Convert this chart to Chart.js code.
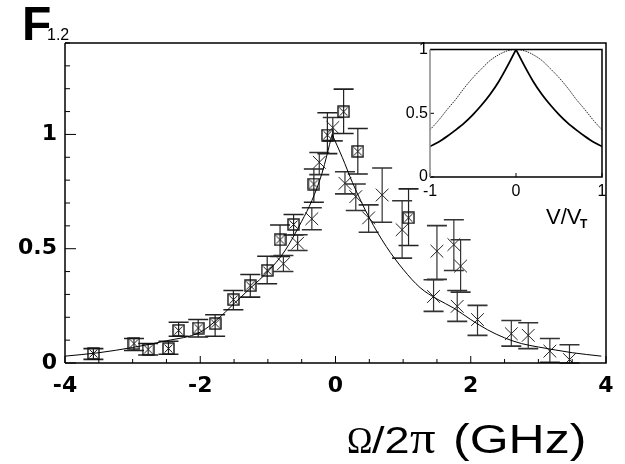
<!DOCTYPE html>
<html>
<head>
<meta charset="utf-8">
<script src="https://cdn.jsdelivr.net/npm/chart.js@4.4.1/dist/chart.umd.min.js"></script>
<style>
html, body { margin: 0; padding: 0; background: #fff; }
#wrap { position: relative; width: 625px; height: 464px; }
#mainChart { position: absolute; left: 0; top: 0; }
#insetChart { position: absolute; left: 380px; top: 38px; }
</style>
</head>
<body>
<div id="wrap">
  <canvas id="mainChart" width="625" height="464"></canvas>
  <canvas id="insetChart" width="240" height="200"></canvas>
</div>
<script>
// boxed points (square with x inside)
var squareX  = [-3.58, -2.98, -2.77, -2.47, -2.32, -2.03, -1.78, -1.51, -1.26, -1.01, -0.82, -0.62, -0.32, -0.12, 0.12, 0.33, 1.08];
var squareY  = [0.042, 0.085, 0.06, 0.063, 0.143, 0.153, 0.172, 0.277, 0.338, 0.405, 0.539, 0.606, 0.783, 0.997, 1.099, 0.926, 0.635];
var squareLo = [0.016, 0.055, 0.035, 0.038, 0.117, 0.114, 0.117, 0.233, 0.288, 0.347, 0.466, 0.56, 0.703, 0.916, 1.004, 0.827, 0.514];
var squareHi = [0.063, 0.107, 0.085, 0.095, 0.178, 0.19, 0.211, 0.317, 0.387, 0.467, 0.604, 0.65, 0.849, 1.095, 1.198, 1.026, 0.762];

// cross points
var crossX  = [-0.77, -0.56, -0.35, -0.24, -0.04, 0.14, 0.30, 0.49, 0.69, 0.985, 1.45, 1.50, 1.75, 1.80, 1.85, 2.10, 2.60, 2.85, 3.17, 3.46];
var crossY  = [0.434, 0.524, 0.631, 0.878, 1.03, 0.786, 0.728, 0.635, 0.735, 0.583, 0.291, 0.489, 0.518, 0.248, 0.424, 0.19, 0.128, 0.121, 0.052, 0.015];
var crossLo = [0.40, 0.492, 0.583, 0.824, 0.972, 0.74, 0.667, 0.572, 0.616, 0.459, 0.226, 0.366, 0.405, 0.182, 0.31, 0.121, 0.074, 0.063, 0.003, 0.0];
var crossHi = [0.47, 0.561, 0.679, 0.921, 1.074, 0.837, 0.783, 0.692, 0.853, 0.71, 0.364, 0.601, 0.627, 0.317, 0.539, 0.252, 0.186, 0.176, 0.107, 0.08];

// fitted curve (two branches meeting at the cusp)
var fitLeftX  = [-4, -3.5, -3, -2.5, -2, -1.75, -1.5, -1.25, -1, -0.75, -0.5, -0.35, -0.2, -0.05];
var fitLeftY  = [0.03, 0.045, 0.068, 0.097, 0.135, 0.19, 0.26, 0.33, 0.40, 0.49, 0.62, 0.71, 0.83, 1.0];
var fitRightX = [-0.05, 0.1, 0.25, 0.5, 0.75, 1, 1.25, 1.5, 1.75, 2, 2.25, 2.5, 2.75, 3, 3.25, 3.5, 3.93];
var fitRightY = [1.0, 0.9, 0.79, 0.635, 0.51, 0.41, 0.33, 0.28, 0.24, 0.19, 0.145, 0.11, 0.085, 0.07, 0.057, 0.045, 0.03];

// inset curves
var insetV     = [-1, -0.9, -0.8, -0.7, -0.6, -0.5, -0.4, -0.3, -0.2, -0.1, 0, 0.1, 0.2, 0.3, 0.4, 0.5, 0.6, 0.7, 0.8, 0.9, 1];
var insetGauss = [0.37, 0.445, 0.53, 0.61, 0.70, 0.78, 0.85, 0.915, 0.96, 0.99, 1, 0.99, 0.96, 0.915, 0.85, 0.78, 0.70, 0.61, 0.53, 0.445, 0.37];
var insetCusp  = [0.24, 0.275, 0.32, 0.37, 0.425, 0.49, 0.565, 0.65, 0.75, 0.87, 1, 0.87, 0.75, 0.65, 0.565, 0.49, 0.425, 0.37, 0.32, 0.275, 0.24];

var xTickLabels = ['-4', '-2', '0', '2', '4'];
var yTickLabels = ['0', '0.5', '1'];

function toPoints(xs, ys) {
    var pts = [];
    for (var i = 0; i < xs.length; i++) pts.push({ x: xs[i], y: ys[i] });
    return pts;
}

function near(v, step) {
    var r = Math.round(v / step) * step;
    return Math.abs(v - r) < 1e-6;
}

function makeBoxCross(size) {
    var c = document.createElement('canvas');
    c.width = size;
    c.height = size;
    var g = c.getContext('2d');
    g.strokeStyle = '#111';
    g.lineWidth = 1.4;
    g.strokeRect(1, 1, size - 2, size - 2);
    g.lineWidth = 1;
    g.beginPath();
    g.moveTo(2.5, 2.5); g.lineTo(size - 2.5, size - 2.5);
    g.moveTo(size - 2.5, 2.5); g.lineTo(2.5, size - 2.5);
    g.stroke();
    return c;
}

var errorBars = {
    id: 'errorBars',
    beforeDatasetsDraw: function(chart) {
        var ctx = chart.ctx;
        var xs = chart.scales.x, ys = chart.scales.y;
        chart.data.datasets.forEach(function(ds) {
            if (!ds.errLo) return;
            ctx.save();
            ctx.strokeStyle = ds.errColor || '#222';
            for (var i = 0; i < ds.data.length; i++) {
                var px = xs.getPixelForValue(ds.data[i].x);
                var lo = ys.getPixelForValue(ds.errLo[i]);
                var hi = ys.getPixelForValue(ds.errHi[i]);
                ctx.lineWidth = 1.2;
                ctx.beginPath();
                ctx.moveTo(px, lo); ctx.lineTo(px, hi);
                ctx.stroke();
                ctx.lineWidth = 1.6;
                ctx.beginPath();
                ctx.moveTo(px - 10, lo); ctx.lineTo(px + 10, lo);
                ctx.moveTo(px - 10, hi); ctx.lineTo(px + 10, hi);
                ctx.stroke();
            }
            ctx.restore();
        });
    }
};

function makeFrame(opt) {
    return {
        id: 'frame',
        beforeDraw: function(chart) {
            if (!opt.fill) return;
            var a = chart.chartArea, ctx = chart.ctx;
            ctx.save();
            ctx.fillStyle = '#fff';
            ctx.fillRect(a.left, a.top, a.right - a.left, a.bottom - a.top);
            ctx.restore();
        },
        afterDatasetsDraw: function(chart) {
            var a = chart.chartArea, ctx = chart.ctx;
            ctx.save();
            ctx.strokeStyle = '#000';
            ctx.lineWidth = 1;
            ctx.beginPath();
            chart.scales.y.ticks.forEach(function(t) {
                var py = chart.scales.y.getPixelForValue(t.value);
                var len = near(t.value, opt.yMajor) ? opt.yMajorLen : opt.yMinorLen;
                ctx.moveTo(a.left, py); ctx.lineTo(a.left + len, py);
            });
            chart.scales.x.ticks.forEach(function(t) {
                var px = chart.scales.x.getPixelForValue(t.value);
                var len = near(t.value, opt.xMajor) ? opt.xMajorLen : opt.xMinorLen;
                ctx.moveTo(px, a.bottom); ctx.lineTo(px, a.bottom - len);
            });
            ctx.stroke();
            ctx.lineWidth = 1.5;
            ctx.beginPath();
            ctx.moveTo(a.left, a.top); ctx.lineTo(a.right, a.top);
            ctx.lineTo(a.right, a.bottom); ctx.lineTo(a.left, a.bottom);
            ctx.stroke();
            ctx.strokeStyle = opt.leftColor || '#000';
            ctx.beginPath();
            ctx.moveTo(a.left, a.bottom); ctx.lineTo(a.left, a.top);
            ctx.stroke();
            ctx.restore();
        }
    };
}

var mainText = {
    id: 'mainText',
    afterDraw: function(chart) {
        var ctx = chart.ctx;
        ctx.save();
        ctx.fillStyle = '#000';
        ctx.textAlign = 'left';
        ctx.textBaseline = 'alphabetic';
        ctx.font = 'bold 48px "Liberation Sans", Arial, sans-serif';
        ctx.fillText('F', 22, 40);
        ctx.font = '16px "Liberation Sans", Arial, sans-serif';
        ctx.fillText('1.2', 47, 40);

        // x axis title
        piece(ctx, '\u03A9', '38px "Liberation Serif", serif', 347, 453, 0.9);
        piece(ctx, '/2', '36px "Liberation Sans", Arial, sans-serif', 372, 453, 1.25);
        piece(ctx, '\u03C0', '46px "Liberation Serif", serif', 410, 453, 1.1);
        piece(ctx, '(GHz)', '40px "Liberation Sans", Arial, sans-serif', 453, 453, 1.25);

        // inset axis title
        ctx.font = '22px "Liberation Sans", Arial, sans-serif';
        ctx.fillText('V/V', 546, 224);
        ctx.font = 'bold 12px "Liberation Sans", Arial, sans-serif';
        ctx.fillText('T', 580, 228);
        ctx.restore();
    }
};

function piece(ctx, text, font, x, y, sx) {
    ctx.save();
    ctx.font = font;
    ctx.translate(x, y);
    ctx.scale(sx, 1);
    ctx.fillText(text, 0, 0);
    ctx.restore();
}

var boxCross = makeBoxCross(13);

new Chart(document.getElementById('mainChart'), {
    type: 'scatter',
    data: {
        datasets: [
            { data: toPoints(fitLeftX, fitLeftY), showLine: true, pointRadius: 0, borderColor: '#000', borderWidth: 1, cubicInterpolationMode: 'monotone' },
            { data: toPoints(fitRightX, fitRightY), showLine: true, pointRadius: 0, borderColor: '#000', borderWidth: 1, cubicInterpolationMode: 'monotone' },
            { data: toPoints(squareX, squareY), errLo: squareLo, errHi: squareHi, errColor: '#222', pointStyle: boxCross, pointRadius: 7 },
            { data: toPoints(crossX, crossY), errLo: crossLo, errHi: crossHi, errColor: '#333', pointStyle: 'crossRot', pointRadius: 9, borderColor: '#222', borderWidth: 1 }
        ]
    },
    options: {
        responsive: false,
        animation: false,
        events: [],
        layout: { padding: { top: 43, right: 19, left: 0, bottom: 0 } },
        plugins: { legend: { display: false }, tooltip: { enabled: false } },
        scales: {
            x: {
                type: 'linear', min: -4, max: 4,
                grid: { display: false, drawTicks: false },
                border: { display: false },
                afterFit: function(s) { s.height = 101; },
                ticks: {
                    stepSize: 0.5, autoSkip: false, maxRotation: 0, padding: 10,
                    color: '#000',
                    font: { family: '"DejaVu Sans", sans-serif', size: 22, weight: 'bold' },
                    callback: function(v) {
                        var r = Math.round(v);
                        if (near(v, 2)) return xTickLabels[(r + 4) / 2];
                        return '';
                    }
                }
            },
            y: {
                type: 'linear', min: 0, max: 1.4,
                grid: { display: false, drawTicks: false },
                border: { display: false },
                afterFit: function(s) { s.width = 65; },
                ticks: {
                    stepSize: 0.1, autoSkip: false, padding: 8,
                    color: '#000',
                    font: { family: '"DejaVu Sans", sans-serif', size: 22, weight: 'bold' },
                    callback: function(v) {
                        if (near(v, 0.5)) return yTickLabels[Math.round(v * 2)];
                        return '';
                    }
                }
            }
        }
    },
    plugins: [errorBars, makeFrame({ yMajor: 0.5, yMajorLen: 11, yMinorLen: 5, xMajor: 2, xMajorLen: 7, xMinorLen: 4 }), mainText]
});

var insetLeft = insetV.slice(0, 11), insetRight = insetV.slice(10);

new Chart(document.getElementById('insetChart'), {
    type: 'scatter',
    data: {
        datasets: [
            { data: toPoints(insetV, insetGauss), showLine: true, pointRadius: 0, borderColor: '#222', borderWidth: 1, borderDash: [1.5, 1], cubicInterpolationMode: 'monotone' },
            { data: toPoints(insetLeft, insetCusp.slice(0, 11)), showLine: true, pointRadius: 0, borderColor: '#000', borderWidth: 1.8, cubicInterpolationMode: 'monotone' },
            { data: toPoints(insetRight, insetCusp.slice(10)), showLine: true, pointRadius: 0, borderColor: '#000', borderWidth: 1.8, cubicInterpolationMode: 'monotone' }
        ]
    },
    options: {
        responsive: false,
        animation: false,
        events: [],
        layout: { padding: { top: 10, right: 18, left: 0, bottom: 0 } },
        plugins: { legend: { display: false }, tooltip: { enabled: false } },
        scales: {
            x: {
                type: 'linear', min: -1, max: 1,
                grid: { display: false, drawTicks: false },
                border: { display: false },
                afterFit: function(s) { s.height = 61; },
                ticks: {
                    stepSize: 1, autoSkip: false, maxRotation: 0, padding: 5,
                    color: '#000',
                    font: { family: '"Liberation Sans", Arial, sans-serif', size: 16 },
                    callback: function(v) { return String(Math.round(v)); }
                }
            },
            y: {
                type: 'linear', min: 0, max: 1,
                grid: { display: false, drawTicks: false },
                border: { display: false },
                afterFit: function(s) { s.width = 50; },
                ticks: {
                    stepSize: 0.5, autoSkip: false, padding: 2,
                    color: '#000',
                    font: { family: '"Liberation Sans", Arial, sans-serif', size: 16 },
                    callback: function(v) { return yTickLabels[Math.round(v * 2)]; }
                }
            }
        }
    },
    plugins: [makeFrame({ fill: true, yMajor: 0.5, yMajorLen: 4, yMinorLen: 4, xMajor: 1, xMajorLen: 4, xMinorLen: 4, leftColor: '#888' })]
});
</script>
</body>
</html>
